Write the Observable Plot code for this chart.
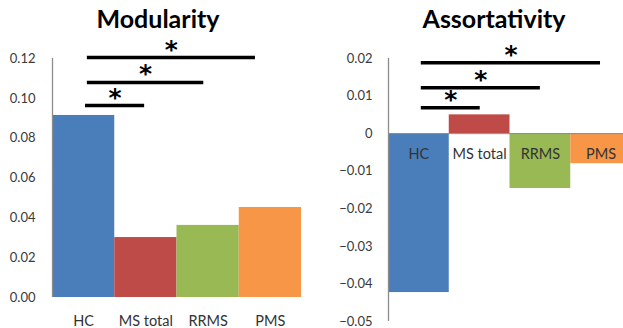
<!DOCTYPE html>
<html><head><meta charset="utf-8">
<script src="https://cdn.jsdelivr.net/npm/d3@7"></script>
<script src="https://cdn.jsdelivr.net/npm/@observablehq/plot@0.6"></script>
<style>
body{margin:0;background:#fff;}
#wrap{position:relative;width:623px;height:328px;overflow:hidden;background:#fff;font-family:Lato,sans-serif;}
.panel{position:absolute;top:0;}
.title{position:absolute;top:6px;font-weight:bold;font-size:25px;line-height:25px;text-align:center;width:240px;color:#000;font-family:Lato,sans-serif;}
</style></head><body><div id="wrap"></div>
<script>
const groups = ["HC", "MS total", "RRMS", "PMS"];
const colors = ["#4A7EBB", "#BE4B48", "#98B954", "#F79646"];
const modularity = [0.0914, 0.0301, 0.0362, 0.0452];
const assortativity = [-0.0423, 0.005, -0.0146, -0.008];
const modTicks = [0, 0.02, 0.04, 0.06, 0.08, 0.10, 0.12];
const assTicks = [0.02, 0.01, 0, -0.01, -0.02, -0.03, -0.04, -0.05];
// significance brackets: start / end in bar-index units, height in data units
const modSigFrom = [0.53, 0.56, 0.56];
const modSigTo = [1.48, 2.43, 3.26];
const modSigY = [0.0964, 0.108, 0.1205];
const assSigFrom = [0.54, 0.54, 0.54];
const assSigTo = [1.51, 2.50, 3.49];
const assSigY = [0.0069, 0.0122, 0.0189];

function panel(o) {
  const bars = groups.map((g, i) => ({g, i, v: o.values[i], c: colors[i]}));
  const sig = o.sigY.map((y, k) => ({x1: o.sigFrom[k], x2: o.sigTo[k], y}));
  const marks = [
    Plot.rectY(bars, {x1: "i", x2: d => d.i + 1, y: "v", fill: "c"}),
  ];
  if (o.zeroLine) marks.push(Plot.ruleY([0], {stroke: "#8c8c8c", strokeWidth: 1}));
  marks.push(
    Plot.ruleX([0], {stroke: "#8c8c8c", strokeWidth: 1.3}),
    Plot.axisY(o.ticks, {tickSize: 0, tickPadding: o.tickPadding, tickFormat: o.fmt, fontSize: 13, color: "#3a3a3a"}),
    Plot.text(bars, {x: d => d.i + 0.5, y: 0, dy: o.labelDy, text: "g", fontSize: 14.5, fill: "#333", lineAnchor: "middle"}),
    Plot.ruleY(sig, {y: "y", x1: "x1", x2: "x2", stroke: "#000", strokeWidth: 3.5}),
    Plot.text(sig, {x: d => (d.x1 + d.x2) / 2, y: "y", text: () => "*", dy: -8, fontSize: 25, fontWeight: "bold", fontFamily: "DejaVu Sans", fill: "#000", lineAnchor: "middle"})
  );
  return Plot.plot({
    width: o.width, height: 328,
    marginLeft: o.marginLeft, marginRight: 9, marginTop: 58, marginBottom: o.marginBottom,
    x: {domain: [0, 4], axis: null},
    y: {domain: o.domain, axis: null},
    color: {type: "identity"},
    style: {fontFamily: "Lato, sans-serif", background: "transparent", overflow: "visible"},
    marks
  });
}

const wrap = document.getElementById("wrap");

const left = panel({
  values: modularity, ticks: modTicks, fmt: d3.format(".2f"), domain: [0, 0.12],
  sigFrom: modSigFrom, sigTo: modSigTo, sigY: modSigY,
  width: 310, marginLeft: 52, marginBottom: 31, labelDy: 24, tickPadding: 17, zeroLine: false
});
left.classList.add("panel"); left.style.left = "0px";
wrap.appendChild(left);

const right = panel({
  values: assortativity, ticks: assTicks, fmt: d => d === 0 ? "0" : d3.format(".2f")(d), domain: [-0.05, 0.02],
  sigFrom: assSigFrom, sigTo: assSigTo, sigY: assSigY,
  width: 330, marginLeft: 78, marginBottom: 7, labelDy: 21, tickPadding: 16, zeroLine: true
});
right.classList.add("panel"); right.style.left = "310px";
wrap.appendChild(right);

const t1 = document.createElement("div");
t1.className = "title"; t1.textContent = "Modularity"; t1.style.left = (158 - 120) + "px";
wrap.appendChild(t1);
const t2 = document.createElement("div");
t2.className = "title"; t2.textContent = "Assortativity"; t2.style.left = (494 - 120) + "px";
wrap.appendChild(t2);
</script></body></html>
